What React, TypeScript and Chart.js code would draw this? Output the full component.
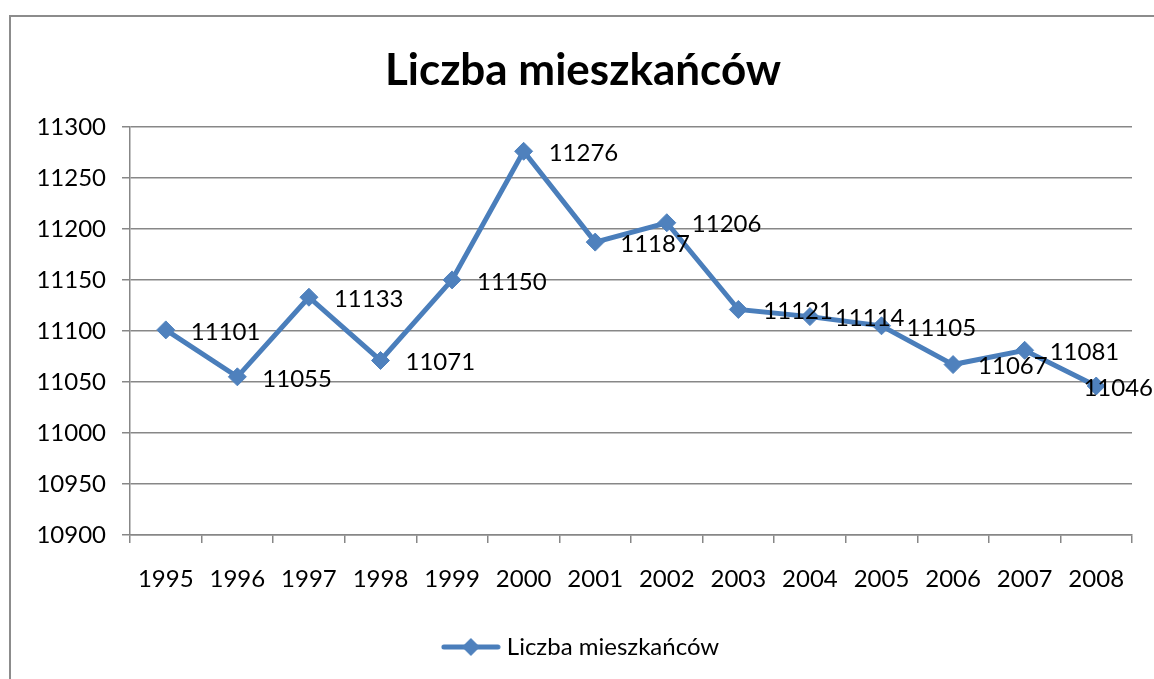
import React, { useEffect, useRef } from "react";
import { Chart, registerables } from "chart.js";

Chart.register(...registerables);

const TITLE = "Liczba mieszkańców";
const SERIES_NAME = "Liczba mieszkańców";
const years = ["1995", "1996", "1997", "1998", "1999", "2000", "2001", "2002", "2003", "2004", "2005", "2006", "2007", "2008"];
const residents = [11101, 11055, 11133, 11071, 11150, 11276, 11187, 11206, 11121, 11114, 11105, 11067, 11081, 11046];
const yMin = 10900;
const yMax = 11300;
const yStep = 50;

const LINE = "#4A7EBB";
const MARKER = "#4F81BD";
const GRID = "#878787";
const FONT = "Lato, 'Open Sans', sans-serif";

function legendIcon(): HTMLCanvasElement {
  const c = document.createElement("canvas");
  c.width = 60;
  c.height = 22;
  const ctx = c.getContext("2d")!;
  ctx.strokeStyle = LINE;
  ctx.lineWidth = 5;
  ctx.lineCap = "round";
  ctx.beginPath();
  ctx.moveTo(3, 11);
  ctx.lineTo(57, 11);
  ctx.stroke();
  ctx.fillStyle = MARKER;
  ctx.beginPath();
  ctx.moveTo(30 - 9, 11);
  ctx.lineTo(30, 2);
  ctx.lineTo(30 + 9, 11);
  ctx.lineTo(30, 20);
  ctx.closePath();
  ctx.fill();
  return c;
}

const dataLabels = {
  id: "dataLabels",
  afterDatasetsDraw(chart: any) {
    const ctx = chart.ctx;
    const meta = chart.getDatasetMeta(0);
    const values = chart.data.datasets[0].data;
    ctx.save();
    ctx.font = `24px ${FONT}`;
    ctx.fillStyle = "#000";
    ctx.textAlign = "left";
    ctx.textBaseline = "middle";
    meta.data.forEach((pt: any, i: number) => {
      const txt = String(values[i]);
      const w = ctx.measureText(txt).width;
      let x = pt.x + 25;
      if (x + w > chart.width - 1) x = chart.width - 1 - w;
      ctx.fillText(txt, x, pt.y + 2);
    });
    ctx.restore();
  },
};

export default function App() {
  const ref = useRef<HTMLCanvasElement | null>(null);
  useEffect(() => {
    if (!ref.current) return;
    const icon = legendIcon();
    const chart = new Chart(ref.current, {
      type: "line",
      data: {
        labels: years,
        datasets: [
          {
            label: SERIES_NAME,
            data: residents,
            borderColor: LINE,
            backgroundColor: MARKER,
            borderWidth: 5,
            pointStyle: "rectRot",
            pointRadius: 9,
            pointBorderWidth: 1,
            pointBorderColor: MARKER,
            pointBackgroundColor: MARKER,
            tension: 0,
          },
        ],
      },
      options: {
        responsive: false,
        animation: false,
        layout: { padding: { left: 34, right: 22, top: 0, bottom: 10 } },
        plugins: {
          title: {
            display: true,
            text: TITLE,
            color: "#000",
            font: { family: FONT, size: 44, weight: "bold", lineHeight: 1.2 },
            padding: { top: 44, bottom: 30 },
          },
          legend: {
            position: "bottom",
            labels: {
              color: "#000",
              font: { family: FONT, size: 24 },
              usePointStyle: true,
              pointStyleWidth: 48,
              padding: 20,
              generateLabels: (c: any) => [
                {
                  text: SERIES_NAME,
                  pointStyle: icon,
                  fillStyle: MARKER,
                  strokeStyle: LINE,
                  lineWidth: 0,
                  hidden: false,
                  datasetIndex: 0,
                },
              ],
            },
          },
          tooltip: { enabled: false },
        },
        scales: {
          x: {
            offset: true,
            grid: {
              display: true,
              offset: true,
              drawOnChartArea: false,
              drawTicks: true,
              tickLength: 8,
              color: GRID,
              lineWidth: 1.5,
            },
            border: { display: true, color: GRID, width: 1.5 },
            ticks: {
              color: "#000",
              font: { family: FONT, size: 24 },
              padding: 22,
              maxRotation: 0,
              autoSkip: false,
            },
            afterFit: (s: any) => {
              s.height = 80;
            },
          },
          y: {
            min: yMin,
            max: yMax,
            grid: {
              color: GRID,
              lineWidth: 1.5,
              drawTicks: true,
              tickLength: 8,
            },
            border: { display: true, color: GRID, width: 1.5 },
            ticks: {
              stepSize: yStep,
              color: "#000",
              font: { family: FONT, size: 24 },
              padding: 16,
              callback: (v: any) => String(v),
            },
            afterFit: (s: any) => {
              s.width = 96;
            },
          },
        },
      },
      plugins: [dataLabels],
    });
    return () => chart.destroy();
  }, []);

  return (
    <div style={{ position: "absolute", left: 0, top: 0, width: 1154, height: 679, overflow: "hidden", background: "#fff" }}>
      <div
        style={{
          position: "absolute",
          left: 9,
          top: 15,
          width: 1170,
          height: 720,
          border: "2px solid #8c8c8c",
          boxSizing: "border-box",
        }}
      />
      <canvas ref={ref} width={1154} height={679} style={{ position: "absolute", left: 0, top: 0 }} />
    </div>
  );
}
